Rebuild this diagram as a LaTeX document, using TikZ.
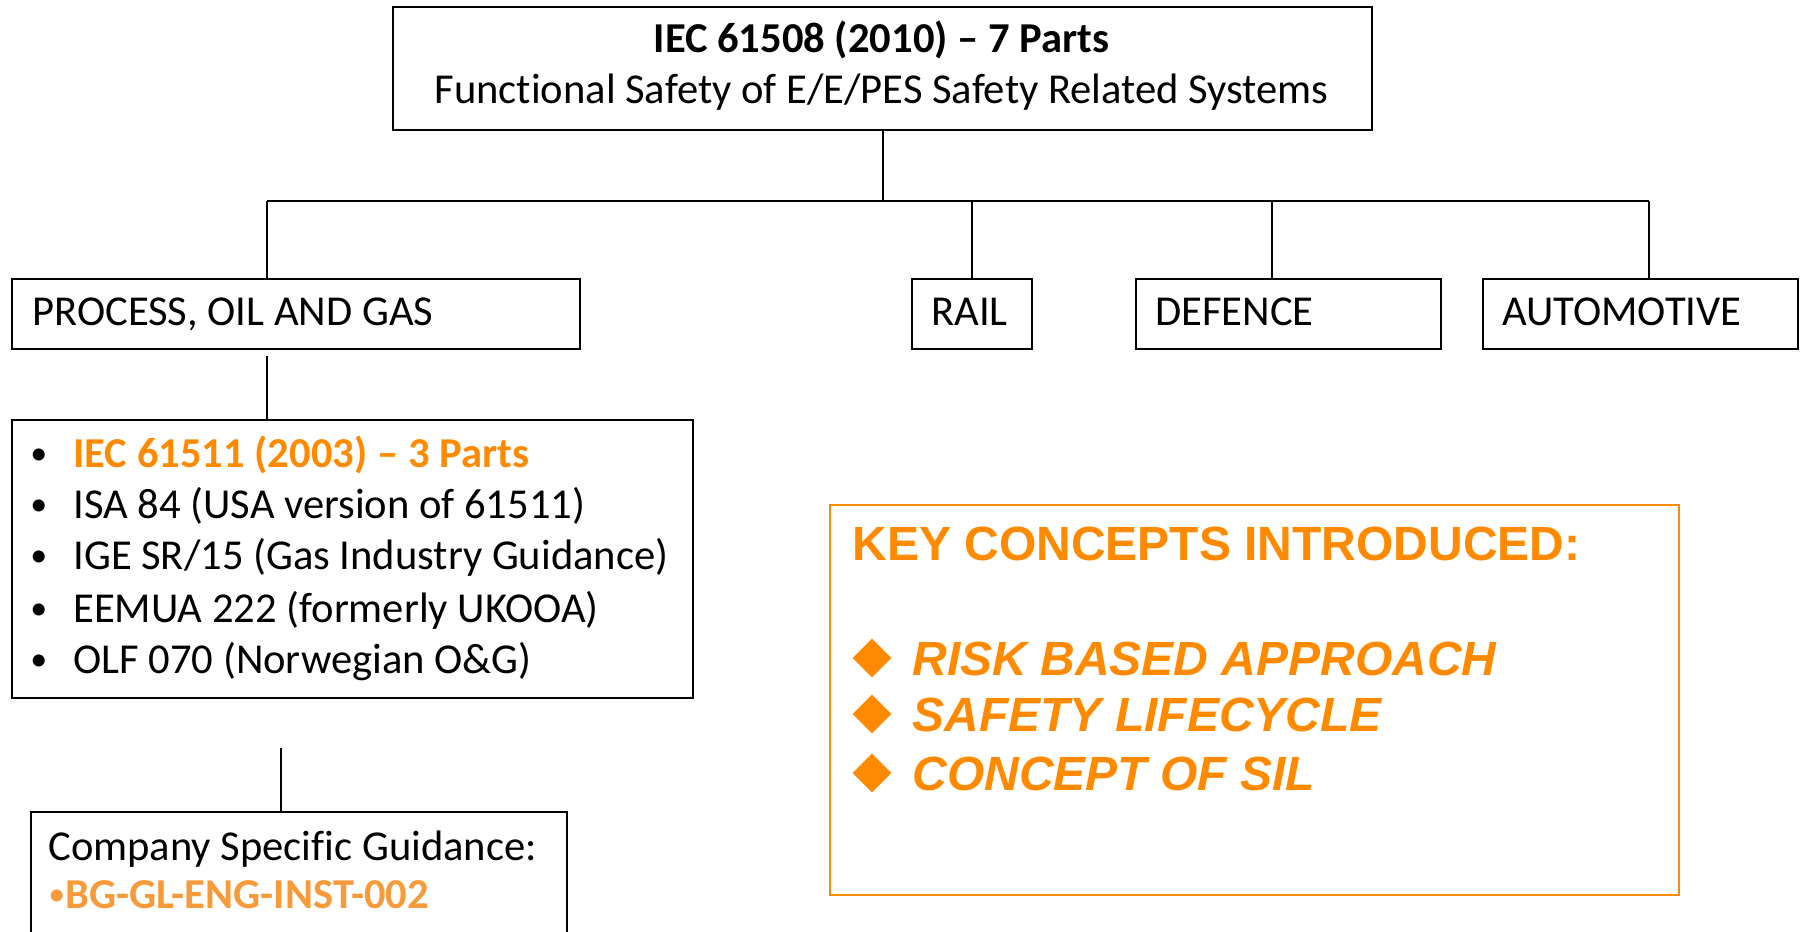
\documentclass[tikz,border=0pt]{standalone}
\usepackage{fontspec}
\setmainfont{Carlito}[Ligatures={NoCommon}]
\newfontfamily\arialfont{Liberation Sans}
\usetikzlibrary{shapes.geometric}
\definecolor{keyorange}{HTML}{FF8A00}
\definecolor{lightorange}{HTML}{F79A3A}
\newcommand{\smallbullet}{\raisebox{1.5pt}{\fontsize{17}{20}\selectfont •}}
\begin{document}
\begin{tikzpicture}[x=0.5pt,y=-0.5pt,
  box/.style={draw, line width=1.2pt, inner sep=0pt, anchor=north west},
  lbl/.style={anchor=base west, inner sep=0pt, font=\fontsize{21.3}{25}\selectfont},
  keytxt/.style={anchor=base west, inner sep=0pt, text=keyorange,
                 font=\arialfont\bfseries\fontsize{24}{28}\selectfont},
  keyitem/.style={keytxt, font=\arialfont\bfseries\itshape\fontsize{24}{28}\selectfont},
  bulletmark/.style={diamond, fill=keyorange, inner sep=0pt, minimum width=19.5pt, minimum height=19.5pt},
  link/.style={line width=0.9pt}]
\useasboundingbox (0,0) rectangle (1802,931);
\clip (0,0) rectangle (1802,931);

% top-level standard
\node[box, minimum width=489.5pt, minimum height=61.5pt] (top) at (392,6) {};
\node[anchor=base, inner sep=0pt, font=\bfseries\fontsize{21.3}{25}\selectfont] (t1) at (881.5,53) {IEC 61508 (2010) – 7 Parts};
\node[anchor=base, inner sep=0pt, font=\fontsize{21.3}{25}\selectfont] (t2) at (881.5,104) {Functional Safety of E/E/PES Safety Related Systems};

% sector boxes
\node[box, minimum width=284pt, minimum height=35pt] (proc) at (11,278) {};
\node[lbl] (proct) at (32,325) {PROCESS, OIL AND GAS};
\node[box, minimum width=60pt, minimum height=35pt] (rail) at (911,278) {};
\node[lbl] (railt) at (931,325) {RAIL};
\node[box, minimum width=152.5pt, minimum height=35pt] (def) at (1135,278) {};
\node[lbl] (deft) at (1155,325) {DEFENCE};
\node[box, minimum width=157.5pt, minimum height=35pt] (auto) at (1482,278) {};
\node[lbl] (autot) at (1502,325) {AUTOMOTIVE};

% sector standards list
\node[box, minimum width=340.5pt, minimum height=139pt] (list) at (11,419) {};
\foreach \n/\y in {1/467,2/518,3/569,4/622,5/673}
  \node[lbl] (b\n) at (30,\y) {\smallbullet};
\node[lbl, text=keyorange, font=\bfseries\fontsize{21.3}{25}\selectfont] (i1) at (73,467) {IEC 61511 (2003) – 3 Parts};
\node[lbl] (i2) at (73,518) {ISA 84 (USA version of 61511)};
\node[lbl] (i3) at (73,569) {IGE SR/15 (Gas Industry Guidance)};
\node[lbl] (i4) at (73,622) {EEMUA 222 (formerly UKOOA)};
\node[lbl] (i5) at (73,673) {OLF 070 (Norwegian O\&G)};

% company guidance
\node[box, minimum width=268pt, minimum height=100pt] (comp) at (30,811) {};
\node[lbl] (c1) at (48,860) {Company Specific Guidance:};
\node[lbl, text=lightorange] (c2) at (48,908) {\smallbullet\textbf{BG-GL-ENG-INST-002}};

% key concepts panel
\node[box, draw=keyorange, line width=1pt, minimum width=424.5pt, minimum height=195pt] (key) at (829,504) {};
\node[keytxt] (k0) at (852,560) {KEY CONCEPTS INTRODUCED:};
\node[bulletmark] (d1) at (872,658) {};
\node[keyitem] (k1) at (912,675) {RISK BASED APPROACH};
\node[bulletmark] (d2) at (872,714) {};
\node[keyitem] (k2) at (912,731) {SAFETY LIFECYCLE};
\node[bulletmark] (d3) at (872,773) {};
\node[keyitem] (k3) at (912,790) {CONCEPT OF SIL};

% connectors
\coordinate (busw) at (267,201);
\coordinate (buse) at (1649,201);
\coordinate (brail) at (972,201);
\coordinate (bdef) at (1272,201);
\coordinate (pl) at (267,356);
\coordinate (lc) at (281,748);
\draw[link] (top.south) -- (top.south |- busw);
\draw[link] (busw) -- (buse);
\draw[link] (busw) -- (busw |- proc.north);
\draw[link] (brail) -- (brail |- rail.north);
\draw[link] (bdef) -- (bdef |- def.north);
\draw[link] (buse) -- (buse |- auto.north);
\draw[link] (pl) -- (pl |- list.north);
\draw[link] (lc) -- (lc |- comp.north);
\end{tikzpicture}
\end{document}
